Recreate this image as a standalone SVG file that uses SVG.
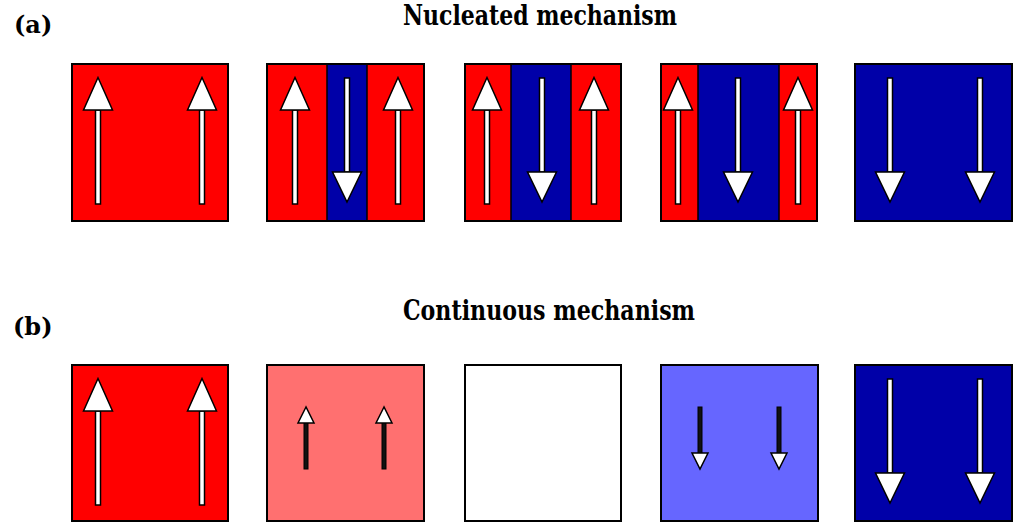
<svg xmlns="http://www.w3.org/2000/svg" xmlns:xlink="http://www.w3.org/1999/xlink" width="1024" height="529" viewBox="0 0 1024 529">
<style>
.box{stroke:#000;stroke-width:2}
.red{fill:#ff0000}
.blue{fill:#0000a8}
.lred{fill:#ff7070}
.lblue{fill:#6666ff}
.white{fill:#ffffff}
.ttl{font-weight:bold;fill:#000}
.arr{fill:#fff;stroke:#000;stroke-width:1.5}
.sh{fill:#111;stroke:#000;stroke-width:1}
</style>
<defs>
<g id="upBig"><rect class="arr" x="-2.5" y="46" width="5" height="94"/><polygon class="arr" points="0,13.5 -14.5,46 14.5,46"/></g>
<g id="downBig"><rect class="arr" x="-2.5" y="14" width="5" height="94"/><polygon class="arr" points="-14.5,108 14.5,108 0,138"/></g>
<g id="upSmall"><rect class="sh" x="-2" y="56" width="4" height="48"/><polygon class="arr" points="0,42 -8,58 8,58"/></g>
<g id="downSmall"><rect class="sh" x="-2" y="42" width="4" height="48"/><polygon class="arr" points="-8,88 8,88 0,104"/></g>
</defs>
<g id="labels" font-family="'DejaVu Serif', serif">
<text class="ttl" x="14" y="33" font-size="24">(a)</text>
<text class="ttl" x="403" y="25" font-size="27" textLength="274" lengthAdjust="spacingAndGlyphs">Nucleated mechanism</text>
<text class="ttl" x="13" y="335" font-size="24">(b)</text>
<text class="ttl" x="403" y="320" font-size="27" textLength="292" lengthAdjust="spacingAndGlyphs">Continuous mechanism</text>
</g>
<g id="a1">
<rect class="red" x="72" y="64" width="156" height="157"/>
<rect class="box" x="72" y="64" width="156" height="157" fill="none"/>
<use xlink:href="#upBig" x="98" y="64"/><use xlink:href="#upBig" x="202" y="64"/>
</g>
<g id="a2">
<rect class="red" x="267" y="64" width="157" height="157"/>
<rect class="blue" x="327" y="64" width="40" height="157"/>
<line x1="327" y1="64" x2="327" y2="221" stroke="#000" stroke-width="1.5"/>
<line x1="367" y1="64" x2="367" y2="221" stroke="#000" stroke-width="1.5"/>
<rect class="box" x="267" y="64" width="157" height="157" fill="none"/>
<use xlink:href="#upBig" x="295" y="64"/><use xlink:href="#downBig" x="347" y="64"/><use xlink:href="#upBig" x="398" y="64"/>
</g>
<g id="a3">
<rect class="red" x="465" y="64" width="156" height="157"/>
<rect class="blue" x="511" y="64" width="60" height="157"/>
<line x1="511" y1="64" x2="511" y2="221" stroke="#000" stroke-width="1.5"/>
<line x1="571" y1="64" x2="571" y2="221" stroke="#000" stroke-width="1.5"/>
<rect class="box" x="465" y="64" width="156" height="157" fill="none"/>
<use xlink:href="#upBig" x="487" y="64"/><use xlink:href="#downBig" x="542" y="64"/><use xlink:href="#upBig" x="594" y="64"/>
</g>
<g id="a4">
<rect class="red" x="661" y="64" width="156" height="157"/>
<rect class="blue" x="698" y="64" width="81" height="157"/>
<line x1="698" y1="64" x2="698" y2="221" stroke="#000" stroke-width="1.5"/>
<line x1="779" y1="64" x2="779" y2="221" stroke="#000" stroke-width="1.5"/>
<rect class="box" x="661" y="64" width="156" height="157" fill="none"/>
<use xlink:href="#upBig" x="678" y="64"/><use xlink:href="#downBig" x="738" y="64"/><use xlink:href="#upBig" x="798" y="64"/>
</g>
<g id="a5">
<rect class="blue box" x="855" y="64" width="157" height="157"/>
<use xlink:href="#downBig" x="890" y="64"/><use xlink:href="#downBig" x="980" y="64"/>
</g>
<g id="b1">
<rect class="red box" x="72" y="365" width="156" height="156"/>
<use xlink:href="#upBig" x="98" y="365"/><use xlink:href="#upBig" x="202" y="365"/>
</g>
<g id="b2">
<rect class="lred box" x="267" y="365" width="157" height="156"/>
<use xlink:href="#upSmall" x="306" y="365"/><use xlink:href="#upSmall" x="384" y="365"/>
</g>
<g id="b3">
<rect class="white box" x="465" y="365" width="156" height="156"/>
</g>
<g id="b4">
<rect class="lblue box" x="661" y="365" width="157" height="156"/>
<use xlink:href="#downSmall" x="700" y="365"/><use xlink:href="#downSmall" x="779" y="365"/>
</g>
<g id="b5">
<rect class="blue box" x="855" y="365" width="157" height="156"/>
<use xlink:href="#downBig" x="890" y="365"/><use xlink:href="#downBig" x="980" y="365"/>
</g>
</svg>
